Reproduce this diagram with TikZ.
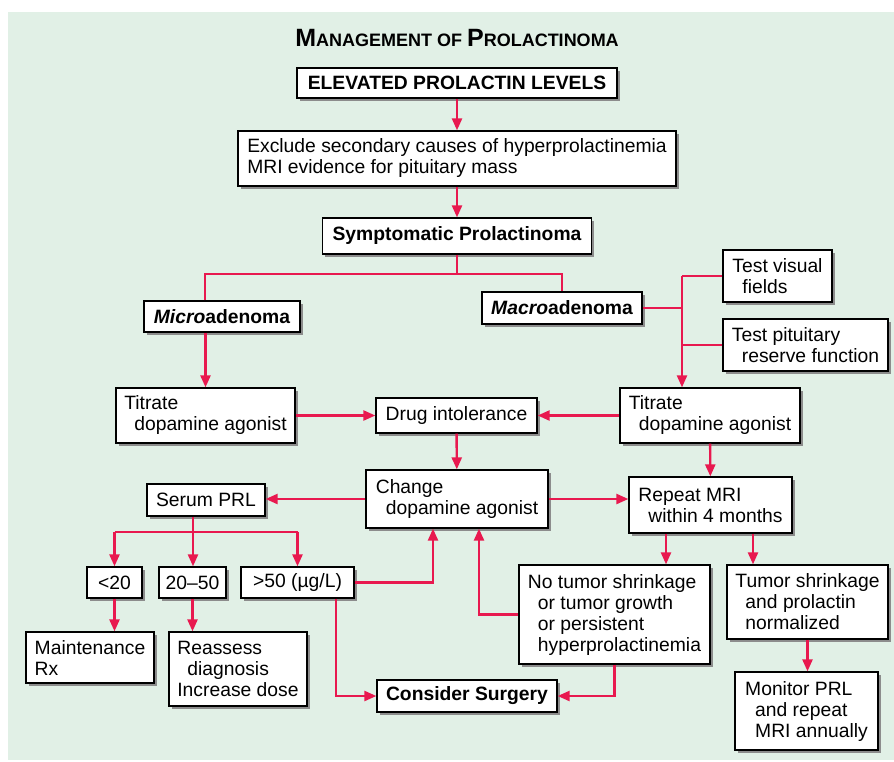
\documentclass[tikz,border=0pt]{standalone}
\usepackage{fontspec}
\setmainfont{Liberation Sans}
\usetikzlibrary{positioning,arrows.meta,shadows,calc}
\definecolor{panelgreen}{HTML}{E1F0E6}
\definecolor{linkred}{HTML}{E8194F}
\definecolor{shadowgray}{HTML}{8C8C8C}
\newcommand{\indt}{\hspace*{10pt}}

\begin{document}
\begin{tikzpicture}[x=1pt, y=-1pt,
    box/.style={draw, line width=1.3pt, fill=white, inner sep=0pt, align=left,
      font=\fontsize{19.3}{21}\selectfont,
      drop shadow={shadow xshift=2.5pt, shadow yshift=-2.5pt, fill=shadowgray, opacity=1}},
    head/.style={box, font=\fontsize{19.3}{21}\selectfont\bfseries},
    link/.style={draw=linkred, line width=2.4pt},
    arr/.style={link, -{Triangle[length=12pt,width=10pt]}}]
  \useasboundingbox (0,0) rectangle (894,761);
  \fill[panelgreen] (8,12) rectangle (894,760);

  % title and top chain
  \node[font=\bfseries] (title) at (457,38)
    {\fontsize{25}{28}\selectfont M\fontsize{18}{20}\selectfont ANAGEMENT OF
     \fontsize{25}{28}\selectfont P\fontsize{18}{20}\selectfont ROLACTINOMA};
  \node[head, minimum width=320pt, minimum height=30pt] (elev) at (457,83) {ELEVATED PROLACTIN LEVELS};
  \node[box, minimum width=438pt, minimum height=55pt] (excl) at (457,158.5)
    {Exclude secondary causes of hyperprolactinemia\\MRI evidence for pituitary mass};
  \node[head, minimum width=269pt, minimum height=36pt] (sympt) at (457,236) {Symptomatic Prolactinoma};

  % two branches
  \node[head, minimum width=156pt, minimum height=31pt] (micro) at (222,316.5) {\textit{Micro}adenoma};
  \node[head, minimum width=160pt, minimum height=32pt] (macro) at (562,308) {\textit{Macro}adenoma};
  \node[box, minimum width=109pt, minimum height=52pt] (visual) at (777.5,276) {Test visual\\\indt fields};
  \node[box, minimum width=165pt, minimum height=52pt] (pitu) at (805.5,345) {Test pituitary\\\indt reserve function};
  \node[box, minimum width=179pt, minimum height=55pt] (titL) at (205.5,415.5) {Titrate\\\indt dopamine agonist};
  \node[box, minimum width=161pt, minimum height=35pt] (drug) at (456.5,415.5) {Drug intolerance};
  \node[box, minimum width=180pt, minimum height=55pt] (titR) at (710,415.5) {Titrate\\\indt dopamine agonist};

  % middle row
  \node[box, minimum width=118pt, minimum height=32pt] (serum) at (206,500) {Serum PRL};
  \node[box, minimum width=182pt, minimum height=58pt] (change) at (457,499) {Change\\\indt dopamine agonist};
  \node[box, minimum width=163pt, minimum height=56pt] (repeat) at (710.5,505) {Repeat MRI\\\indt within 4 months};

  % prolactin levels
  \node[box, minimum width=55pt, minimum height=31pt] (lt20) at (114.5,582.5) {<20};
  \node[box, minimum width=67pt, minimum height=31pt] (mid) at (192.5,582.5) {20–50};
  \node[box, minimum width=113pt, minimum height=31pt] (gt50) at (297.5,582.5) {>50 (µg/L)};
  \node[box, minimum width=128pt, minimum height=51pt] (maint) at (90,657.5) {Maintenance\\Rx};
  \node[box, minimum width=138pt, minimum height=74pt] (reass) at (238,669)
    {Reassess\\\indt diagnosis\\Increase dose};

  % MRI outcomes
  \node[box, minimum width=191pt, minimum height=99pt] (notum) at (614.5,614.5)
    {No tumor shrinkage\\\indt or tumor growth\\\indt or persistent\\\indt hyperprolactinemia};
  \node[box, minimum width=161pt, minimum height=74pt] (tumsh) at (807.5,602)
    {Tumor shrinkage\\\indt and prolactin\\\indt normalized};
  \node[box, minimum width=143pt, minimum height=78pt] (monit) at (806.5,711)
    {Monitor PRL\\\indt and repeat\\\indt MRI annually};
  \node[head, minimum width=180pt, minimum height=32pt] (surg) at (467,696) {Consider Surgery};

  \coordinate (jL) at (205,274);
  \coordinate (jR) at (562,274);
  \coordinate (trunk) at (682,274);
  \coordinate (sbus) at (193,532);

  \draw[arr] (elev) -- (excl);
  \draw[arr] (excl) -- (sympt);
  \draw[link] (sympt) -- (sympt |- jL);
  \draw[link] (jL |- micro.north) -- (jL) -- (jR) -- (macro.north);
  \draw[arr] (micro.south -| titL) -- (titL.north);

  \draw[link] (macro.east) -- (macro.east -| trunk);
  \draw[link] (visual.west) -- (visual.west -| trunk);
  \draw[link] (pitu.west) -- (pitu.west -| trunk);
  \draw[arr] (trunk |- visual.west) -- (trunk |- titR.north);

  \draw[arr] (titL.east) -- (drug.west);
  \draw[arr] (titR.west) -- (drug.east);
  \draw[arr] (drug) -- (change);
  \draw[arr] (titR) -- (repeat);
  \draw[arr] (change.west) -- (change.west -| serum.east);
  \draw[arr] (change.east) -- (change.east -| repeat.west);

  \draw[link] (serum.south -| sbus) -- (sbus);
  \draw[link] (sbus -| lt20) -- (sbus -| gt50);
  \draw[arr] (sbus -| lt20) -- (lt20.north);
  \draw[arr] (sbus) -- (sbus |- mid.north);
  \draw[arr] (sbus -| gt50) -- (gt50.north);
  \draw[arr] (lt20.south) -- (lt20.south |- maint.north);
  \draw[arr] (mid.south) -- (mid.south |- reass.north);

  \draw[arr] (gt50.east) -| ([xshift=-24pt]change.south);
  \draw[arr] ([xshift=38.5pt]gt50.south) |- (surg.west);
  \draw[arr] (notum.west) -| ([xshift=22pt]change.south);
  \draw[arr] (notum.south) |- (surg.east);

  \draw[arr] ($(repeat.south)+(-44.5,0)$) -- ($(repeat.south |- notum.north)+(-44.5,0)$);
  \draw[arr] ($(repeat.south)+(42.5,0)$) -- ($(repeat.south |- tumsh.north)+(42.5,0)$);
  \draw[arr] (tumsh.south) -- (tumsh.south |- monit.north);
\end{tikzpicture}
\end{document}
